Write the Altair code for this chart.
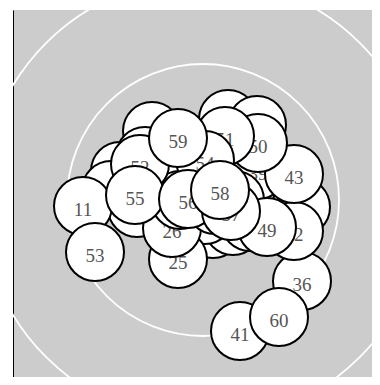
import altair as alt
import pandas as pd

# Node labels and positions (pixel-like units, origin at chart centre, y up)
labels = [11, 25, 26, 36, 39, 41, 42, 43, 49, 50, 51, 52, 53, 54, 55, 56, 57, 58, 59, 60,
          1, 2, 3, 4, 5, 6, 7, 8, 9, 10,
          12, 13, 14, 15, 16, 17, 18, 19, 20, 21,
          22, 23, 24, 27, 28, 29, 30, 31, 32, 33,
          34, 35, 37, 38, 40, 44, 45, 46, 47, 48]
px = [83, 178, 172, 302, 258, 240, 294, 294, 267, 258, 225, 140, 95, 205, 135, 188, 231, 220, 178, 279,
      228, 257, 152, 145, 120, 111, 137, 137, 137, 213,
      233, 250, 195, 210, 180, 200, 215, 190, 205, 175,
      160, 165, 185, 230, 240, 250, 245, 275, 270, 225,
      200, 160, 215, 150, 301, 205, 190, 215, 235, 180]
py = [206, 259, 228, 281, 170, 331, 231, 174, 227, 143, 136, 164, 252, 160, 195, 199, 211, 190, 138, 317,
      119, 125, 131, 156, 171, 190, 201, 204, 208, 229,
      226, 222, 180, 175, 190, 205, 200, 215, 215, 210,
      195, 175, 165, 160, 185, 195, 165, 200, 190, 175,
      185, 185, 170, 180, 207, 195, 180, 205, 200, 200]

ring_r = [136, 222]

CX, CY = 203, 200
nodes = pd.DataFrame({
    "label": labels,
    "x": [p - CX for p in px],
    "y": [CY - q for q in py],
})

rings = pd.DataFrame({"r": ring_r, "x": [0, 0], "y": [0, 0]})

xs = alt.Scale(domain=[-190, 169], nice=False, zero=False)
ys = alt.Scale(domain=[-177, 190], nice=False, zero=False)

ring_layer = alt.Chart(rings).transform_calculate(
    s="(2*datum.r)*(2*datum.r)"
).mark_point(shape="circle", filled=False, stroke="white", strokeWidth=1.8, opacity=1, clip=True).encode(
    x=alt.X("x:Q", scale=xs, axis=None),
    y=alt.Y("y:Q", scale=ys, axis=alt.Axis(domain=True, domainColor="black", domainWidth=1,
                                            ticks=False, labels=False, grid=False, title=None)),
    size=alt.Size("s:Q", scale=None, legend=None),
)

base = alt.Chart(nodes)
layers = [ring_layer]
for lab in sorted(labels):
    sub = base.transform_filter(alt.datum.label == lab)
    layers.append(sub.mark_point(
        shape="circle", filled=True, fill="white", stroke="black", strokeWidth=2, opacity=1, size=3364
    ).encode(x=alt.X("x:Q", scale=xs, axis=None), y=alt.Y("y:Q", scale=ys)))
    layers.append(sub.mark_text(
        font="Liberation Serif", fontSize=19, color="#555", baseline="middle", align="center", dy=4
    ).encode(x=alt.X("x:Q", scale=xs, axis=None), y=alt.Y("y:Q", scale=ys), text="label:N"))

chart = alt.layer(*layers).properties(
    width=359, height=367,
    padding={"left": 5, "top": 2, "right": 0, "bottom": 0},
    autosize=alt.AutoSizeParams(type="none"),
).configure_view(fill="#cccccc", stroke=None)

chart.save("out.html", embed_options={"renderer": "svg", "actions": False})
